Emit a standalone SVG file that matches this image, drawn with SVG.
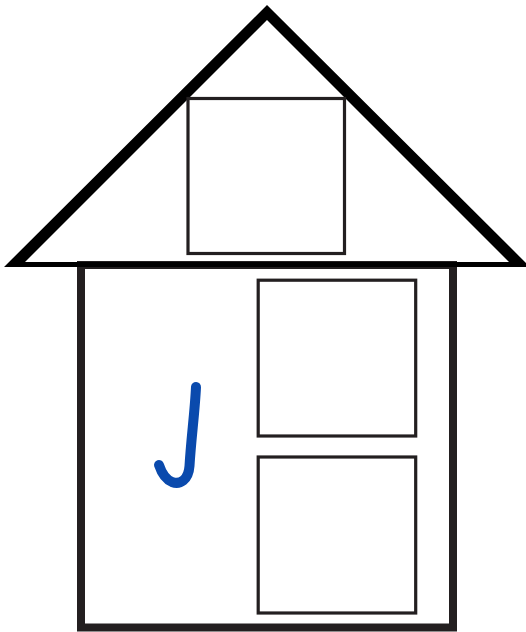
<svg xmlns="http://www.w3.org/2000/svg" width="526" height="632" viewBox="0 0 526 632">
  <style>
    .window { fill: #ffffff; stroke: #231f20; stroke-width: 3.2; }
    .wall { fill: #ffffff; stroke: #231f20; stroke-width: 8; }
    .roof { fill: #000000; fill-rule: evenodd; }
    .mark { fill: none; stroke: #0a4aad; stroke-width: 10; stroke-linecap: round; stroke-linejoin: round; }
  </style>
  <rect x="0" y="0" width="526" height="632" fill="#ffffff"/>
  <g id="body">
    <rect class="wall" x="81" y="265" width="372" height="362.5"/>
  </g>
  <g id="roof">
    <path class="roof" d="M267,5 L4,267 L530,267 Z M267,20 L25,262 L509,262 Z"/>
  </g>
  <g id="attic-window">
    <rect class="window" x="188" y="98.5" width="156.5" height="155"/>
  </g>
  <g id="upper-window">
    <rect class="window" x="258.2" y="280.2" width="157.5" height="155.8"/>
  </g>
  <g id="lower-window">
    <rect class="window" x="258.2" y="457" width="157.5" height="156"/>
  </g>
  <g id="j-mark">
    <path class="mark" d="M196,387 C195,410 191,440 189.5,466 C188.5,480 180,485 172,482 C165,479 161,471 159,465"/>
  </g>
</svg>
